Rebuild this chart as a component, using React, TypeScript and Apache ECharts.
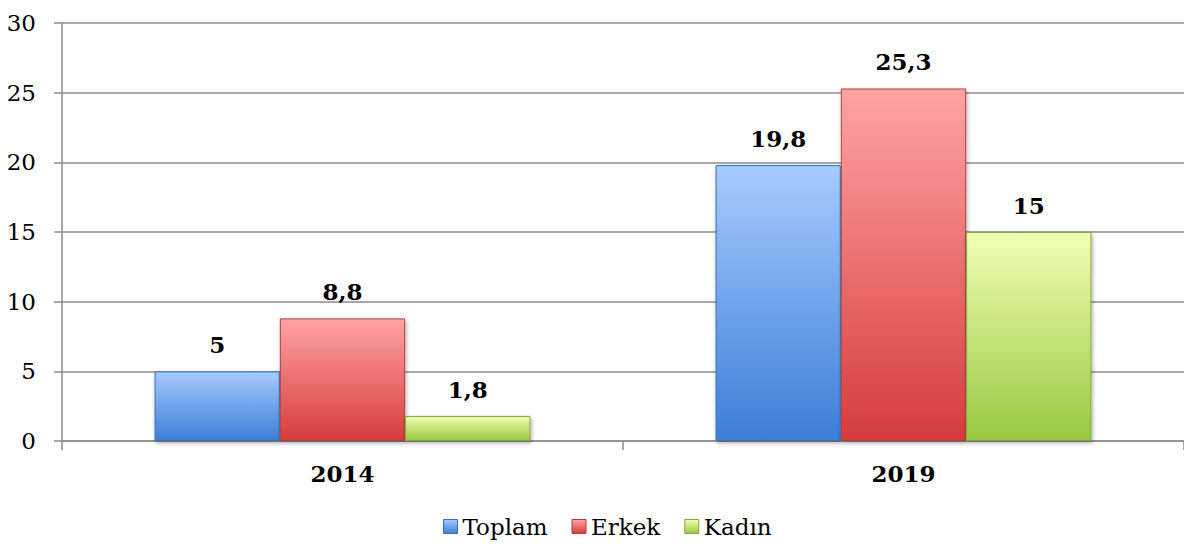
import React, { useEffect, useRef } from "react";
import * as echarts from "echarts";

const categories = ["2014", "2019"];
const toplam = [5, 19.8];
const erkek = [8.8, 25.3];
const kadin = [1.8, 15];
const seriesNames = ["Toplam", "Erkek", "Kadın"];

const FONT = "'DejaVu Serif', serif";

function grad(top: string, bottom: string) {
  return new echarts.graphic.LinearGradient(0, 0, 0, 1, [
    { offset: 0, color: top },
    { offset: 1, color: bottom },
  ]);
}

export default function App() {
  const ref = useRef<HTMLDivElement>(null);
  useEffect(() => {
    const chart = echarts.init(ref.current!, null, { renderer: "svg" });
    const colors = [
      { top: "#a6cbff", bottom: "#3c7ed6", border: "#3a6fb8" },
      { top: "#ffa3a3", bottom: "#d63c3c", border: "#b04040" },
      { top: "#f0ffb4", bottom: "#98c840", border: "#86a844" },
    ];
    const data = [toplam, erkek, kadin];
    const fmt = (v: number) => String(v).replace(".", ",");
    chart.setOption({
      animation: false,
      grid: { left: 62, right: 0, top: 23, bottom: 104, containLabel: false },
      legend: {
        bottom: 2,
        left: 438,
        itemWidth: 14,
        itemHeight: 14,
        itemGap: 24,
        textStyle: { fontFamily: FONT, fontSize: 23, color: "#000" },
        data: seriesNames.map((n, i) => ({
          name: n,
          icon: "rect",
          itemStyle: { color: grad(colors[i].top, colors[i].bottom), borderColor: colors[i].border, borderWidth: 1 },
        })),
      },
      xAxis: {
        type: "category",
        data: categories,
        axisLine: { lineStyle: { color: "#8c8c8c", width: 1.5 } },
        axisTick: { show: true, length: 9, inside: false, lineStyle: { color: "#8c8c8c", width: 1.5 } },
        axisLabel: { fontFamily: FONT, fontSize: 23, fontWeight: "bold", color: "#000", margin: 21 },
      },
      yAxis: {
        type: "value",
        min: 0,
        max: 30,
        interval: 5,
        axisLine: { show: true, lineStyle: { color: "#8c8c8c", width: 1.5 } },
        axisTick: { show: true, length: 8, lineStyle: { color: "#8c8c8c", width: 1.5 } },
        splitLine: { lineStyle: { color: "#8c8c8c", width: 1.5 } },
        axisLabel: { fontFamily: FONT, fontSize: 23, color: "#000", margin: 26 },
      },
      series: data.map((d, i) => ({
        name: seriesNames[i],
        type: "bar",
        data: d,
        barGap: "0%",
        barCategoryGap: "33%",
        itemStyle: {
          color: grad(colors[i].top, colors[i].bottom),
          borderColor: colors[i].border,
          borderWidth: 1,
          shadowColor: "rgba(0,0,0,0.35)",
          shadowBlur: 4,
          shadowOffsetX: 1,
          shadowOffsetY: 2,
        },
        label: {
          show: true,
          position: "top",
          distance: 15,
          fontFamily: FONT,
          fontSize: 23,
          fontWeight: "bold",
          color: "#000",
          formatter: (p: any) => fmt(p.value),
        },
      })),
    });
    return () => chart.dispose();
  }, []);
  return <div ref={ref} style={{ width: 1184, height: 545, position: "absolute", left: 0, top: 0 }} />;
}
